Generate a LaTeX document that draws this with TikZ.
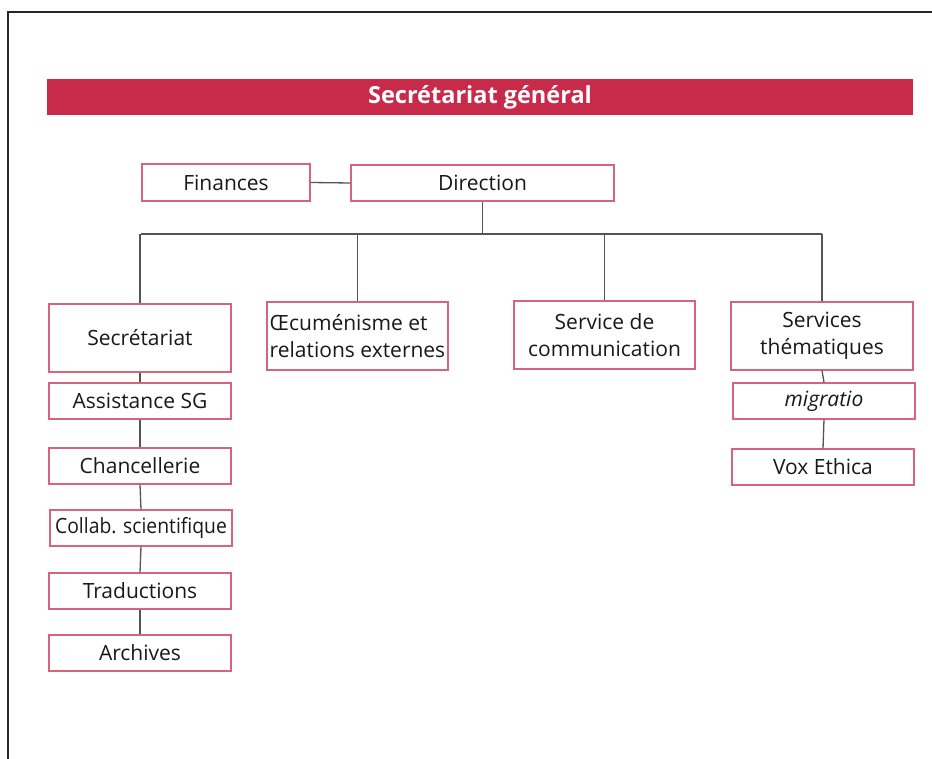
\documentclass[tikz,border=0pt]{standalone}
\usepackage{fontspec}
\setmainfont{Open Sans}
\definecolor{sgred}{RGB}{200,42,74}
\definecolor{boxline}{RGB}{214,100,125}
\definecolor{connc}{RGB}{85,85,85}
\begin{document}
\begin{tikzpicture}[x=1pt,y=-1pt,
  box/.style={draw=boxline,line width=1.2pt,minimum width=182pt,minimum height=36pt,inner sep=0pt,
    font=\fontsize{21}{27}\selectfont,align=center,text=black!90},
  tallbox/.style={box,minimum height=68pt},
  link/.style={draw=connc,line width=1.3pt}]
\useasboundingbox (0,0) rectangle (932,759);
\fill[white] (0,0) rectangle (932,759);
\draw[line width=1.8pt,black!85] (932,12) -- (8,12) -- (8,759);
\node[fill=sgred,minimum width=866pt,minimum height=36pt,inner sep=0pt,text=white,
  font=\fontsize{23.5}{26}\selectfont\bfseries] (title) at (480,97) {Secrétariat général};
\node[box,minimum width=168pt,minimum height=37pt] (fin) at (226,182.5) {Finances};
\node[box,minimum width=263pt] (dir) at (482.5,183) {Direction};
\node[tallbox] (sec) at (140,338) {Secrétariat};
\node[tallbox,minimum width=181pt,align=left] (oec) at (357.5,336) {Œcuménisme et\\relations externes};
\node[tallbox,minimum width=181pt] (com) at (604.5,335) {Service de\\communication};
\node[tallbox] (the) at (822,336) {Services\\thématiques};
\node[box] (ass) at (140,401) {Assistance SG};
\node[box] (cha) at (140,466) {Chancellerie};
\node[box] (col) at (141,528) {\scalebox{0.92}[1]{Collab. scientifique}};
\node[box] (tra) at (140,591) {Traductions};
\node[box] (arc) at (140,653) {Archives};
\node[box] (mig) at (824,401) {\itshape migratio};
\node[box] (vox) at (823,467) {Vox Ethica};
\coordinate (busL) at (141,234);
\coordinate (busR) at (822,234);
\draw[link] (fin.east) -- (dir.west);
\draw[link] (dir.south) -- (dir.south |- busL);
\draw[link] (busL) -- (busR);
\draw[link] (sec.north) -- (sec.north |- busL);
\draw[link] (oec.north) -- (oec.north |- busL);
\draw[link] (com.north) -- (com.north |- busL);
\draw[link] (the.north) -- (the.north |- busL);
\draw[link] (sec.south) -- (ass.north);
\draw[link] (ass.south) -- (cha.north);
\draw[link] (cha.south) -- (col.north);
\draw[link] (col.south) -- (tra.north);
\draw[link] (tra.south) -- (arc.north);
\draw[link] (the.south) -- (mig.north);
\draw[link] (mig.south) -- (vox.north);
\end{tikzpicture}
\end{document}
